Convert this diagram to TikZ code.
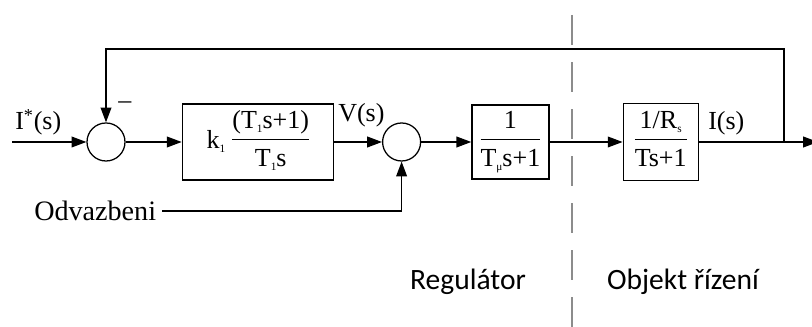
\documentclass[tikz,border=0pt]{standalone}
\usepackage{fontspec}
\setmainfont{Liberation Serif}
\newfontfamily\partfont{Carlito}
\usetikzlibrary{arrows.meta, positioning}
% fraction set in text, with a rule between the two rows
\newcommand{\blockfrac}[2]{\begin{tabular}{@{}c@{}}#1\\[1pt]\hline\rule{0pt}{1.05em}#2\end{tabular}}
\newcommand{\lowsub}[1]{\raisebox{-0.35ex}{\fontsize{8}{8}\selectfont #1}}

\begin{document}
\begin{tikzpicture}[x=0.025cm, y=0.025cm,
    box/.style={draw, line width=0.9pt, align=center, inner sep=1pt, font=\fontsize{18.5}{20}\selectfont},
    sum/.style={draw, circle, line width=0.9pt, minimum size=0.95cm, inner sep=0pt},
    arrow/.style={-{Triangle[length=0.37cm, width=0.27cm]}, line width=0.9pt},
    sig/.style={font=\fontsize{18.5}{20}\selectfont, inner sep=0pt},
    divider/.style={draw=black!45, line width=1.5pt, dash pattern=on 0.75cm off 0.425cm},
    part/.style={font=\partfont\fontsize{21}{24}\selectfont}
  ]
  \useasboundingbox (0,0) rectangle (812,327);

  \node[sum] (sum1) at (106,185) {};
  \node[box, minimum width=3.775cm, minimum height=1.9cm, right=1.4cm of sum1] (reg)
    {k\lowsub{1}\;\blockfrac{(T\lowsub{1}s+1)}{T\lowsub{1}s}};
  \node[sum, right=1.2cm of reg] (sum2) {};
  \node[box, minimum width=1.925cm, minimum height=1.85cm, right=1.25cm of sum2] (filt)
    {\blockfrac{1}{T\lowsub{μ}s+1}};
  \node[box, minimum width=1.875cm, minimum height=1.925cm, right=1.825cm of filt] (plant)
    {\blockfrac{1/R\lowsub{s}}{Ts+1}};

  \coordinate (input) at (12,185);
  \coordinate (branch) at (784,185);
  \coordinate (output) at (818,185);

  % signal labels
  \node[sig, anchor=base west] (ref) at (15,197) {I\textsuperscript{*}(s)};
  \node[sig, anchor=base west] (vs) at (338,205) {V(s)};
  \node[sig, anchor=base west] (is) at (708,197) {I(s)};
  \node[sig] (minus) at (125,222) {--};
  \node[font=\fontsize{20}{22}\selectfont, anchor=east, inner sep=4pt] (odv) at (162,116) {Odvazbeni};

  % forward path
  \draw[arrow] (input) -- (sum1);
  \draw[arrow] (sum1) -- (reg);
  \draw[arrow] (reg) -- (sum2);
  \draw[arrow] (sum2) -- (filt);
  \draw[arrow] (filt) -- (plant);
  \draw[arrow] (plant) -- (output);

  % feedback and decoupling
  \draw[arrow] (branch) -- ++(0,93) -| (sum1.north);
  \draw[arrow] (odv.east) -| (sum2.south);

  % controller / plant boundary
  \draw[divider] (572,312) -- (572,0);
  \node[part] (regl) at (468,45) {Regulátor};
  \node[part] (obj) at (683,45) {Objekt řízení};
\end{tikzpicture}
\end{document}
